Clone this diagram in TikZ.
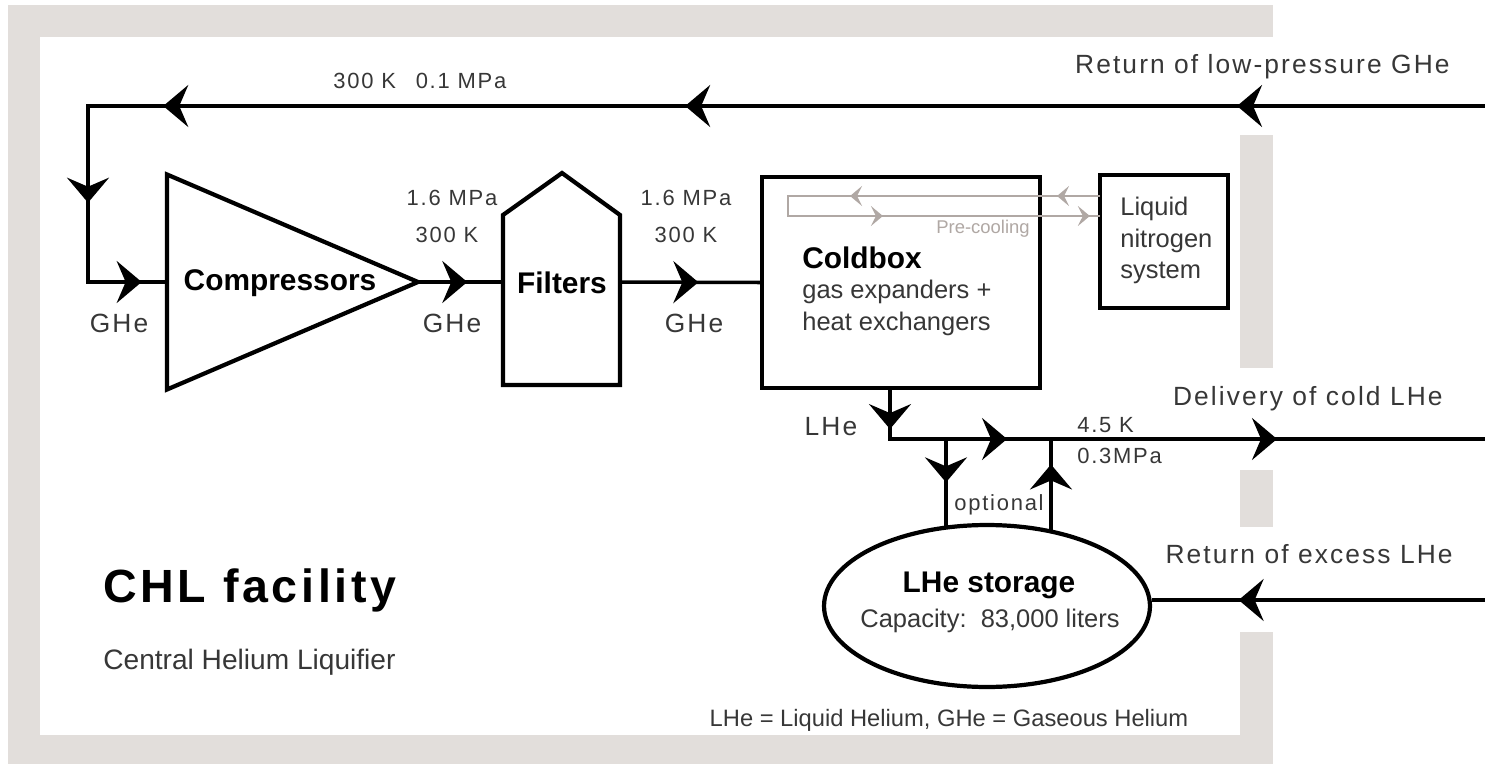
\documentclass[tikz,border=0pt]{standalone}
\usepackage{fontspec}
\setmainfont{Liberation Sans}
\newfontfamily\spacedfont[LetterSpace=8]{Liberation Sans}
\usetikzlibrary{arrows.meta,decorations.markings,shapes.geometric,positioning}

\definecolor{framegray}{RGB}{226,222,219}
\definecolor{pregray}{RGB}{176,168,164}
\definecolor{labelgray}{RGB}{55,55,55}

\tikzset{
  flowtip/.tip={Stealth[length=0.5cm,width=0.84cm,inset=0.18cm]},
  pretip/.tip={Stealth[length=0.24cm,width=0.4cm,inset=0.1cm]},
  flow/.style={line width=2pt},
  pre/.style={line width=1.2pt,draw=pregray},
  tipat/.style={postaction={decorate,decoration={markings,mark=at position #1 with {\arrow{flowtip}}}}},
  pretipat/.style={postaction={decorate,decoration={markings,mark=at position #1 with {\arrow[pregray]{pretip}}}}},
  unit/.style={draw,line width=2.4pt,fill=white},
  namelbl/.style={inner sep=0pt,font=\bfseries\fontsize{17}{20}\selectfont},
  titlelbl/.style={inner sep=0pt,font=\spacedfont\bfseries\fontsize{26.5}{30}\selectfont},
  boxlbl/.style={inner sep=0pt,text=labelgray,font=\fontsize{14.5}{17}\selectfont},
  smalllbl/.style={inner sep=0pt,text=labelgray,font=\spacedfont\fontsize{12.5}{15}\selectfont},
  gaslbl/.style={inner sep=0pt,text=labelgray,font=\spacedfont\fontsize{15}{18}\selectfont},
  linelbl/.style={inner sep=0pt,text=labelgray,font=\spacedfont\fontsize{15}{18}\selectfont},
  prelbl/.style={inner sep=0pt,text=pregray,font=\fontsize{10.5}{12}\selectfont},
}

\begin{document}
\begin{tikzpicture}[x=0.02cm, y=-0.02cm]
\useasboundingbox (0,0) rectangle (1485,764);

% grey frame, open where the lines leave
\fill[framegray] (8,5) rectangle (1273,37);
\fill[framegray] (8,5) rectangle (40,764);
\fill[framegray] (8,735) rectangle (1273,764);
\foreach \ya/\yb in {135/368,470/527,632/764}
{
    \fill[framegray] (1240,\ya) rectangle (1273,\yb);
}

% plant units
\node[unit, isosceles triangle, isosceles triangle stretches, minimum width=4.3cm, minimum height=5.02cm, inner sep=0pt, outer sep=0pt, anchor=apex] (comp) at (418,282) {};
\draw[unit] (503,385) -- (503,215) -- (562,173) -- (620,215) -- (620,385) -- cycle;
\coordinate (filtin) at (503,282);
\coordinate (filtout) at (620,282);
\node[unit, minimum width=5.56cm, minimum height=4.22cm] (cold) at (901,282.5) {};
\node[unit, line width=2.8pt, minimum width=2.56cm, minimum height=2.66cm] (ln) at (1164,241.5) {};
\node[unit, ellipse, minimum width=6.52cm, minimum height=3.24cm, inner sep=0pt] (store) at (987,606) {};

% helium lines
\coordinate (lpin) at (1485,106);
\coordinate (ltop) at (88,106);
\coordinate (lhej) at (890,439);
\coordinate (delout) at (1485,439);
\coordinate (brdown) at (946,439);
\coordinate (brup) at (1051,439);
\coordinate (exin) at (1485,600);
\draw[flow, tipat=4.96cm, tipat=16cm, tipat=26.44cm, tipat=29.88cm, tipat=32.54cm] (lpin) -- (ltop) |- (comp.west);
\draw[flow, tipat=0.58] (comp.apex) -- (filtin);
\draw[flow, tipat=0.56] (filtout) -- (cold.west);
\draw[flow, tipat=0.78cm, tipat=3.32cm, tipat=8.72cm] (cold.south -| lhej) -- (lhej) -- (delout);
\draw[flow, tipat=0.5] (brdown) -- (brdown |- store.118);
\draw[flow, tipat=0.72] (brup |- store.49) -- (brup);
\draw[flow, tipat=0.74] (exin) -- (exin -| store.east);

% nitrogen pre-cooling loop
\coordinate (pcout) at (1100,196);
\coordinate (pcturn) at (788,196);
\coordinate (pcin) at (1100,216);
\draw[pre, pretipat=0.86cm, pretipat=5cm, pretipat=8.54cm, pretipat=12.68cm] (pcout) -- (pcturn) |- (pcin);

% texts
\node[namelbl] (complbl) at (280,283) {Compressors};
\node[namelbl] (filtlbl) at (562,283) {Filters};
\node[namelbl, anchor=base west] (coldlbl) at (802,268) {Coldbox};
\node[boxlbl, anchor=base west] (coldsub) at (802,298) {gas expanders +};
\node[boxlbl, anchor=base west] (coldsubb) at (802,330) {heat exchangers};
\foreach \t/\y [count=\i] in {Liquid/215, nitrogen/247, system/278}
{
    \node[boxlbl, anchor=base west] (lnlbl\i) at (1120,\y) {\t};
}
\node[prelbl, anchor=base east] (prelbl) at (1030,233) {Pre-cooling};

\node[smalllbl, anchor=base west] (toplbl) at (333,88) {300 K\hspace{0.9em}0.1 MPa};
\node[linelbl, anchor=base east] (lplbl) at (1450,73) {Return of low-pressure GHe};
\node[gaslbl, anchor=base] (gasa) at (119,332) {GHe};
\node[smalllbl, anchor=base] (pra) at (452,205) {1.6 MPa};
\node[smalllbl, anchor=base] (ta) at (447,242) {300 K};
\node[gaslbl, anchor=base] (gasb) at (452,332) {GHe};
\node[smalllbl, anchor=base] (prb) at (686,205) {1.6 MPa};
\node[smalllbl, anchor=base] (tb) at (686,242) {300 K};
\node[gaslbl, anchor=base] (gasc) at (694,332) {GHe};
\node[gaslbl, anchor=base] (liqlbl) at (831,435) {LHe};
\node[smalllbl, anchor=base west] (tdel) at (1077,432) {4.5 K};
\node[smalllbl, anchor=base west] (prdel) at (1077,463) {0.3MPa};
\node[smalllbl, anchor=base] (optlbl) at (999,510) {optional};
\node[linelbl, anchor=base east] (dellbl) at (1443,405) {Delivery of cold LHe};
\node[linelbl, anchor=base east] (exlbl) at (1453,563) {Return of excess LHe};

\node[namelbl, anchor=base] (storelbl) at (989,592) {LHe storage};
\node[boxlbl, anchor=base] (caplbl) at (990,627) {Capacity:\ \ 83,000 liters};

\node[titlelbl, anchor=base west] (title) at (103,602) {CHL facility};
\node[boxlbl, font=\fontsize{16}{19}\selectfont, anchor=base west] (subtitle) at (103,669) {Central Helium Liquifier};
\node[boxlbl, font=\fontsize{13.5}{16}\selectfont, anchor=base] (note) at (949,726) {LHe = Liquid Helium, GHe = Gaseous Helium};
\end{tikzpicture}
\end{document}
